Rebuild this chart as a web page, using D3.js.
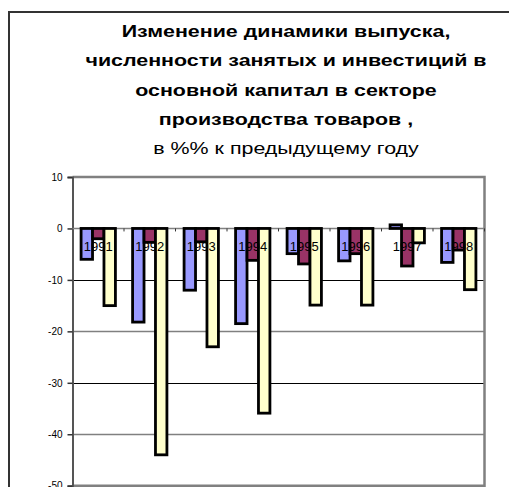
<!DOCTYPE html>
<html>
<head>
<meta charset="utf-8">
<script src="https://cdn.jsdelivr.net/npm/d3@7/dist/d3.min.js"></script>
<style>
  html, body { margin: 0; padding: 0; background: #fff; }
  svg { display: block; font-family: "Liberation Sans", Arial, sans-serif; }
</style>
</head>
<body>
<svg id="chart" width="509" height="487"></svg>
<script>
// Years on the category axis
const years = ["1991", "1992", "1993", "1994", "1995", "1996", "1997", "1998"];
// Change vs previous year, %
const output      = [-6.0, -18.2, -12.0, -18.5, -4.9, -6.3, 0.7, -6.6];      // выпуск
const employment  = [-2.0, -2.7, -2.6, -6.2, -6.9, -4.9, -7.3, -4.2];        // численность занятых
const investment  = [-15.0, -44.0, -23.0, -35.9, -14.9, -14.9, -2.8, -11.9]; // инвестиции
const seriesColors = ["#9999FF", "#993366", "#FFFFCC"];
const yTicks = [10, 0, -10, -20, -30, -40, -50];
const titleLines = [
  "Изменение динамики выпуска,",
  "численности занятых и инвестиций в",
  "основной капитал в секторе",
  "производства товаров ,"
];
const subtitle = "в %% к предыдущему году";

const series = [output, employment, investment];

const svg = d3.select("#chart");

// Outer chart frame
svg.append("rect")
  .attr("x", 9).attr("y", 12)
  .attr("width", 620).attr("height", 620)
  .attr("fill", "#fff")
  .attr("stroke", "#333").attr("stroke-width", 2);

// Title (wide lettering: glyphs stretched horizontally)
const title = svg.append("text")
  .attr("text-anchor", "middle")
  .attr("fill", "#000")
  .attr("transform", "translate(286,0) scale(1.26,1)");
titleLines.forEach((t, i) => {
  title.append("tspan")
    .attr("x", 0).attr("y", 37 + i * 29.3)
    .attr("font-weight", "bold").attr("font-size", 17)
    .text(t);
});
title.append("tspan")
  .attr("x", 0).attr("y", 37 + 4 * 29.3)
  .attr("font-size", 17)
  .text(subtitle);

// Plot area
const plot = { left: 72.5, right: 484.5, top: 177, bottom: 485.7 };

const x = d3.scaleBand()
  .domain(years)
  .range([plot.left, plot.right])
  .paddingInner(0).paddingOuter(0);

const y = d3.scaleLinear()
  .domain([-50, 10])
  .range([plot.bottom, plot.top]);

// 150% gap between groups: each band holds 3 bars + 1.5 bar widths of gap
const barW = x.bandwidth() / 4.5;
const x1 = d3.scaleBand()
  .domain(d3.range(series.length))
  .range([barW * 0.75, barW * 0.75 + barW * 3])
  .padding(0);

// Horizontal gridlines
svg.append("g")
  .selectAll("line")
  .data(yTicks.filter(v => v !== 0 && v !== 10 && v !== -50))
  .join("line")
  .attr("x1", plot.left).attr("x2", plot.right)
  .attr("y1", d => Math.round(y(d)) + 0.5)
  .attr("y2", d => Math.round(y(d)) + 0.5)
  .attr("stroke", d => (d % 20 === 0 ? "#808080" : "#000"))
  .attr("stroke-width", d => (d % 20 === 0 ? 1.6 : 1));

// Plot border (top, right, bottom)
svg.append("path")
  .attr("d", `M${plot.left},${plot.top}H${plot.right}V${plot.bottom}H${plot.left}`)
  .attr("fill", "none")
  .attr("stroke", "#808080").attr("stroke-width", 2.5);

// Y axis
const yAxis = d3.axisLeft(y)
  .tickValues(yTicks)
  .tickFormat(d => String(d))
  .tickSize(5).tickPadding(5);
const gy = svg.append("g")
  .attr("transform", `translate(${plot.left},0)`)
  .call(yAxis);
gy.select(".domain").attr("stroke", "#555").attr("stroke-width", 2);
gy.selectAll(".tick line").attr("stroke", "#333").attr("stroke-width", 1.5);
gy.selectAll(".tick text")
  .attr("font-size", 10)
  .attr("font-family", "\"Liberation Sans\", Arial, sans-serif")
  .attr("fill", "#000");

// Zero line with category separators
svg.append("line")
  .attr("x1", plot.left).attr("x2", plot.right)
  .attr("y1", y(0)).attr("y2", y(0))
  .attr("stroke", "#808080").attr("stroke-width", 1.5);
svg.append("g")
  .selectAll("line")
  .data(years)
  .join("line")
  .attr("x1", d => x(d) + x.step())
  .attr("x2", d => x(d) + x.step())
  .attr("y1", y(0)).attr("y2", y(0) + 3)
  .attr("stroke", "#333").attr("stroke-width", 1);

// Bars
const groups = svg.append("g")
  .selectAll("g")
  .data(years)
  .join("g")
  .attr("transform", d => `translate(${x(d)},0)`);

groups.selectAll("rect")
  .data((d, i) => series.map((s, k) => ({ k, v: s[i] })))
  .join("rect")
  .attr("x", d => x1(d.k))
  .attr("width", x1.bandwidth())
  .attr("y", d => y(Math.max(0, d.v)))
  .attr("height", d => Math.abs(y(d.v) - y(0)))
  .attr("fill", d => seriesColors[d.k])
  .attr("stroke", "#000")
  .attr("stroke-width", 2.8)
  .attr("stroke-linejoin", "miter");

// Category labels, placed just below the zero line
svg.append("g")
  .selectAll("text")
  .data(years)
  .join("text")
  .attr("x", d => x(d) + x.bandwidth() / 2)
  .attr("y", y(0) + 23)
  .attr("text-anchor", "middle")
  .attr("font-size", 13)
  .attr("fill", "#000")
  .text(d => d);
</script>
</body>
</html>
